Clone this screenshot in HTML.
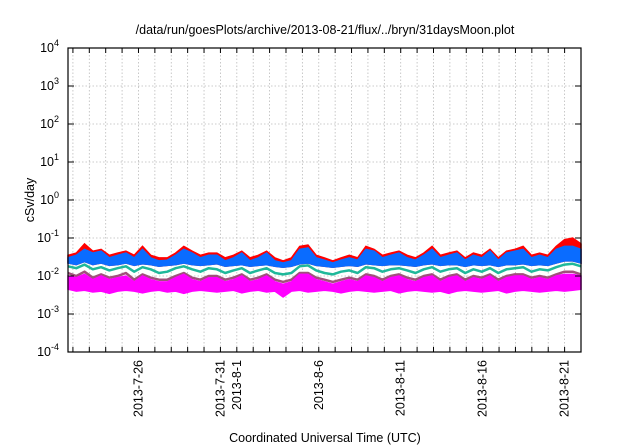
<!DOCTYPE html>
<html><head><meta charset="utf-8">
<style>
html,body{margin:0;padding:0;background:#fff;}
svg{display:block;font-family:"Liberation Sans",sans-serif;}
</style></head>
<body>
<svg id="chart" width="640" height="448" viewBox="0 0 640 448">
<text x="325" y="34" font-size="12.5" text-anchor="middle">/data/run/goesPlots/archive/2013-08-21/flux/../bryn/31daysMoon.plot</text>
<text transform="translate(34,200) rotate(-90)" font-size="12.5" text-anchor="middle">cSv/day</text>
<text x="325" y="442" font-size="12.5" text-anchor="middle">Coordinated Universal Time (UTC)</text>
<g id="grid"></g>
<g id="series"></g>
<g id="axes"></g>
</svg>
<script>
const yExps = [-4,-3,-2,-1,0,1,2,3,4];
const xLabelDays = [4,9,10,15,20,25,30];
const xLabelText = ["2013-7-26","2013-7-31","2013-8-1","2013-8-6","2013-8-11","2013-8-16","2013-8-21"];
const red = [0.035,0.04,0.07,0.045,0.05,0.035,0.04,0.045,0.035,0.06,0.035,0.03,0.03,0.04,0.06,0.045,0.035,0.04,0.04,0.03,0.035,0.045,0.03,0.035,0.045,0.03,0.025,0.03,0.06,0.065,0.035,0.03,0.025,0.03,0.035,0.03,0.06,0.05,0.035,0.04,0.045,0.035,0.03,0.04,0.06,0.035,0.04,0.045,0.03,0.04,0.035,0.05,0.03,0.045,0.05,0.06,0.035,0.04,0.035,0.06,0.09,0.1,0.07];
const blue = [0.03,0.035,0.05,0.04,0.045,0.03,0.035,0.04,0.03,0.05,0.03,0.025,0.026,0.035,0.05,0.04,0.03,0.035,0.035,0.025,0.03,0.04,0.025,0.03,0.04,0.025,0.022,0.025,0.05,0.055,0.03,0.026,0.022,0.026,0.03,0.026,0.05,0.045,0.03,0.035,0.04,0.03,0.026,0.035,0.05,0.03,0.035,0.04,0.026,0.035,0.03,0.045,0.026,0.04,0.045,0.05,0.03,0.035,0.03,0.05,0.06,0.06,0.05];
const blueLo = [0.022,0.02,0.024,0.02,0.022,0.019,0.02,0.022,0.019,0.021,0.02,0.018,0.019,0.02,0.022,0.02,0.019,0.02,0.021,0.018,0.019,0.02,0.018,0.019,0.02,0.018,0.017,0.018,0.021,0.022,0.019,0.018,0.017,0.018,0.019,0.018,0.021,0.02,0.019,0.02,0.02,0.019,0.018,0.02,0.021,0.019,0.02,0.02,0.018,0.02,0.019,0.02,0.018,0.02,0.02,0.021,0.019,0.02,0.019,0.022,0.025,0.025,0.022];
const teal = [0.018,0.016,0.02,0.015,0.017,0.014,0.016,0.018,0.013,0.017,0.015,0.012,0.013,0.016,0.018,0.015,0.013,0.016,0.015,0.012,0.014,0.016,0.012,0.014,0.016,0.012,0.011,0.012,0.018,0.019,0.014,0.012,0.011,0.013,0.014,0.012,0.017,0.016,0.013,0.015,0.016,0.014,0.012,0.015,0.017,0.013,0.015,0.016,0.012,0.015,0.013,0.016,0.012,0.015,0.016,0.017,0.013,0.015,0.014,0.017,0.02,0.021,0.018];
const purple = [0.012,0.01,0.013,0.009,0.011,0.009,0.01,0.012,0.008,0.011,0.009,0.008,0.008,0.01,0.012,0.009,0.008,0.01,0.01,0.008,0.009,0.011,0.008,0.009,0.011,0.008,0.007,0.008,0.012,0.012,0.009,0.008,0.007,0.008,0.009,0.008,0.011,0.01,0.008,0.01,0.011,0.009,0.008,0.01,0.011,0.008,0.01,0.011,0.008,0.01,0.009,0.011,0.008,0.01,0.011,0.011,0.009,0.01,0.009,0.011,0.013,0.013,0.011];
const magHi = [0.01,0.009,0.011,0.008,0.01,0.008,0.009,0.01,0.007,0.01,0.008,0.007,0.007,0.009,0.011,0.008,0.007,0.009,0.009,0.007,0.008,0.01,0.007,0.008,0.01,0.007,0.006,0.007,0.011,0.011,0.008,0.007,0.006,0.007,0.008,0.007,0.01,0.009,0.007,0.009,0.01,0.008,0.007,0.009,0.01,0.007,0.009,0.01,0.007,0.009,0.008,0.01,0.007,0.009,0.01,0.01,0.008,0.009,0.008,0.01,0.011,0.011,0.01];
const magLo = [0.0045,0.004,0.0042,0.0038,0.004,0.0035,0.004,0.0042,0.004,0.0036,0.004,0.0042,0.0038,0.004,0.0035,0.004,0.0042,0.004,0.0038,0.004,0.0042,0.0036,0.004,0.0042,0.0038,0.004,0.0028,0.004,0.0042,0.0038,0.004,0.0042,0.004,0.0036,0.004,0.0042,0.004,0.0038,0.004,0.0042,0.0036,0.004,0.0042,0.004,0.0038,0.004,0.0035,0.004,0.0042,0.004,0.0038,0.004,0.0042,0.0036,0.004,0.0042,0.004,0.0038,0.004,0.0042,0.004,0.0042,0.0045];
const yellow = [0.005,0.0048,0.005,0.0047,0.005,0.0046,0.005,0.0049,0.0048,0.005,0.0047,0.0049,0.0046,0.005,0.0048,0.005,0.0049,0.0047,0.005,0.0048,0.005,0.0046,0.005,0.0049,0.0047,0.005,0.0045,0.0048,0.005,0.0047,0.005,0.0049,0.0048,0.0046,0.005,0.0049,0.005,0.0047,0.005,0.0049,0.0046,0.005,0.0048,0.005,0.0047,0.005,0.0046,0.005,0.0049,0.005,0.0047,0.005,0.0049,0.0046,0.005,0.0049,0.005,0.0047,0.005,0.0049,0.005,0.005,0.0052];

const L=68,R=581,T=48,B=352, X0=-0.3, X1=31.0;
const xs = d => L + (d - X0) / (X1 - X0) * (R - L);
const ys = v => B - (Math.log10(v) + 4) / 8 * (B - T);
const NS="http://www.w3.org/2000/svg";
function mk(tag, attrs, parent){const e=document.createElementNS(NS,tag);for(const k in attrs)e.setAttribute(k,attrs[k]);parent.appendChild(e);return e;}
const grid=document.getElementById('grid'), ser=document.getElementById('series'), ax=document.getElementById('axes');
const dayOf = (i,n) => X0 + i*(X1-X0)/(n-1);

for(let d=0; d<=30; d++){
  const g=mk('line',{x1:xs(d),x2:xs(d),y1:T,y2:B,stroke:'#bbb','stroke-width':0.8,'stroke-dasharray':'1.5,2'},grid);
  
  
  const t1=mk('line',{x1:xs(d),x2:xs(d),y1:B,y2:B-5,stroke:'#000','stroke-width':1},ax);
  
  
  const t2=mk('line',{x1:xs(d),x2:xs(d),y1:T,y2:T+5,stroke:'#000','stroke-width':1},ax);
  
  
}
yExps.forEach(e=>{
  const y=ys(Math.pow(10,e));
  if(e>-4&&e<4){const g=mk('line',{x1:L,x2:R,y1:y,y2:y,stroke:'#bbb','stroke-width':0.8,'stroke-dasharray':'1.5,2'},grid);
  
  }
  const t=mk('line',{x1:L,x2:L+6,y1:y,y2:y,stroke:'#000'},ax);
  
  
  const t2=mk('line',{x1:R,x2:R-6,y1:y,y2:y,stroke:'#000'},ax);
  
  
  const tx=mk('text',{x:L-9,y:y+4,'font-size':12.5,'text-anchor':'end'},ax);
  
  
  tx.textContent='10';
  const sp=mk('tspan',{dy:-6,'font-size':9},tx); sp.textContent=String(e);
});
xLabelDays.forEach((d,i)=>{
  const x=xs(d);
  const tx=mk('text',{transform:`translate(${x+4},${B+8}) rotate(-90)`,'font-size':12.5,'text-anchor':'end'},ax);
  
  
  tx.textContent=xLabelText[i];
});
const fr=mk('rect',{x:L,y:T,width:R-L,height:B-T,fill:'none',stroke:'#000','stroke-width':1.2},ax);



function band(hi, lo, color, name){
  let pts=hi.map((v,i)=>xs(dayOf(i,hi.length)).toFixed(1)+','+ys(v).toFixed(1));
  for(let i=lo.length-1;i>=0;i--) pts.push(xs(dayOf(i,lo.length)).toFixed(1)+','+ys(lo[i]).toFixed(1));
  const p=mk('polygon',{points:pts.join(' '),fill:color,stroke:color,'stroke-width':1.5},ser);
  
  
}
function line(vals,color,w,name){
  const pts=vals.map((v,i)=>xs(dayOf(i,vals.length)).toFixed(1)+','+ys(v).toFixed(1)).join(' ');
  const p=mk('polyline',{points:pts,fill:'none',stroke:color,'stroke-width':w,'stroke-linejoin':'round'},ser);
  
  
}
band(red, blueLo, '#ff0000', 'series-red');
band(blue, blueLo, '#0a6cff', 'series-blue');
line(teal, '#1fb89a', 2.5, 'series-teal');
line(purple, '#a0507a', 2.5, 'series-purple');
line(yellow, '#ffee00', 2, 'series-yellow');
band(magHi, magLo, '#ff00ff', 'series-magenta');
</script>
</body></html>
